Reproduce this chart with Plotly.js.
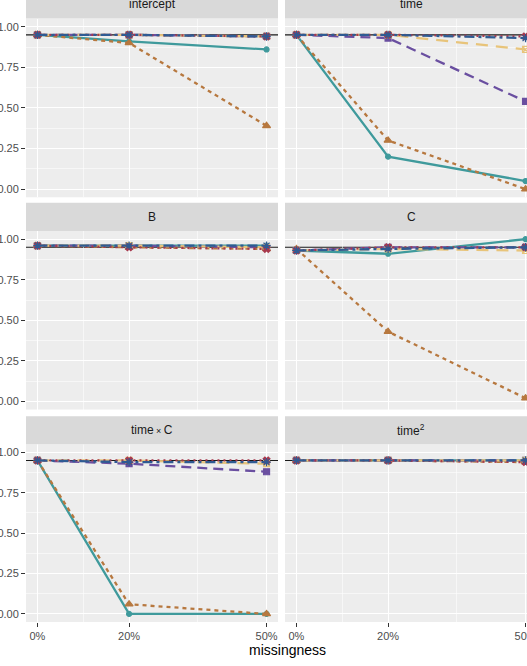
<!DOCTYPE html>
<html>
<head>
<meta charset="utf-8">
<script src="https://cdn.plot.ly/plotly-3.0.1.min.js"></script>
<style>html,body{margin:0;padding:0;background:#fff;overflow:hidden}#chart{width:527px;height:666px}</style>
</head>
<body>
<div id="chart"></div>
<script>
// ---------------- DATA ----------------
const missingness = [0, 20, 50];
const tickLabels = ['0%', '20%', '50%'];
const panelTitles = ['intercept', 'time', 'B', 'C', 'time\u2009<span style="font-size:9px">\u00d7</span>\u2009C', 'time<sup>2</sup>'];
const nominal = 0.95;

// coverage per panel (intercept, time, B, C, time x C, time^2) at 0%, 20%, 50%
const seriesTeal   = [[0.95,0.91,0.86],[0.95,0.20,0.05],[0.96,0.96,0.96],[0.93,0.91,1.00],[0.95,0.00,0.00],[0.95,0.95,0.95]];
const seriesBrown  = [[0.95,0.90,0.39],[0.95,0.30,0.00],[0.96,0.95,0.94],[0.94,0.43,0.02],[0.95,0.06,0.00],[0.95,0.95,0.94]];
const seriesPurple = [[0.95,0.95,0.94],[0.95,0.93,0.54],[0.96,0.96,0.95],[0.93,0.95,0.95],[0.95,0.93,0.88],[0.95,0.95,0.95]];
const seriesYellow = [[0.95,0.95,0.94],[0.95,0.95,0.86],[0.96,0.96,0.95],[0.93,0.94,0.93],[0.95,0.95,0.93],[0.95,0.95,0.95]];
const seriesRed    = [[0.95,0.95,0.94],[0.95,0.95,0.94],[0.96,0.95,0.94],[0.93,0.95,0.95],[0.95,0.95,0.95],[0.95,0.95,0.94]];
const seriesBlue   = [[0.95,0.95,0.94],[0.95,0.95,0.93],[0.96,0.96,0.96],[0.93,0.94,0.95],[0.95,0.94,0.94],[0.95,0.95,0.95]];

// ---------------- STYLE ----------------
const seriesList = [
  {data: seriesTeal,   color: '#3f9a9c', dash: 'solid',          symbol: 'circle',          size: 5},
  {data: seriesBrown,  color: '#b7783f', dash: '4px,4px',        symbol: 'triangle-up',     size: 7},
  {data: seriesPurple, color: '#6a4fa0', dash: '10px,6px',       symbol: 'square',          size: 6},
  {data: seriesYellow, color: '#e8c47a', dash: '12px,8px',       symbol: 'square-x-open',   size: 6},
  {data: seriesRed,    color: '#a8394e', dash: '2px,4px',        symbol: 'x',               size: 6},
  {data: seriesBlue,   color: '#2f5b93', dash: '10px,4px,3px,4px', symbol: 'asterisk-open', size: 7}
];

const W = 527, H = 666;
const mL = 26, mR = 0, mT = 0, mB = 43.6;
const plotW = W - mL - mR, plotH = H - mT - mB;
const colPx = [[26, 278], [285, 527]];
const rowPx = [[18.6, 197.4], [231.2, 409.8], [444.6, 622.4]];
const stripH = 28.2;
const unitPx = 252 / 55;
const px2x = p => (p - mL) / plotW;
const py2y = p => (plotH - (p - mT)) / plotH;

const font = 'Liberation Sans, Arial, sans-serif';
const layout = {
  width: W, height: H,
  margin: {l: mL, r: mR, t: mT, b: mB, pad: 0},
  paper_bgcolor: '#ffffff',
  plot_bgcolor: '#ededed',
  showlegend: false,
  font: {family: font, color: '#4d4d4d', size: 11},
  shapes: [], annotations: []
};
const traces = [];

for (let i = 0; i < 6; i++) {
  const r = Math.floor(i / 2), c = i % 2;
  const n = i + 1;
  const xr = c === 0 ? [-2.5, 52.5] : [-2.5, -2.5 + (colPx[1][1] - colPx[1][0]) / unitPx];
  layout['xaxis' + n] = {
    domain: [px2x(colPx[c][0]), px2x(colPx[c][1])],
    anchor: 'y' + n,
    range: xr, autorange: false, fixedrange: true,
    tickvals: missingness, ticktext: tickLabels,
    showticklabels: r === 2, ticklabeloverflow: 'allow',
    ticks: r === 2 ? 'outside' : '', ticklen: 4, tickwidth: 1, tickcolor: '#333333',
    tickfont: {size: 11, color: '#4d4d4d', family: font},
    showgrid: true, gridcolor: '#ffffff', gridwidth: 1.1,
    minor: {tickvals: [10, 35], showgrid: true, gridcolor: '#ffffff', gridwidth: 0.55},
    zeroline: false, showline: false
  };
  layout['yaxis' + n] = {
    domain: [py2y(rowPx[r][1]), py2y(rowPx[r][0])],
    anchor: 'x' + n,
    range: [-0.05, 1.05], autorange: false, fixedrange: true,
    tickvals: [0, 0.25, 0.5, 0.75, 1], ticktext: ['0.00', '0.25', '0.50', '0.75', '1.00'],
    showticklabels: c === 0, ticklabeloverflow: 'allow',
    ticks: c === 0 ? 'outside' : '', ticklen: 4, tickwidth: 1, tickcolor: '#333333',
    tickfont: {size: 11, color: '#4d4d4d', family: font},
    showgrid: true, gridcolor: '#ffffff', gridwidth: 1.1,
    minor: {tickvals: [0.125, 0.375, 0.625, 0.875], showgrid: true, gridcolor: '#ffffff', gridwidth: 0.55},
    zeroline: false, showline: false
  };
  // strip
  layout.shapes.push({
    type: 'rect', xref: 'paper', yref: 'paper', layer: 'above',
    x0: px2x(colPx[c][0]), x1: c === 0 ? px2x(colPx[c][1]) : 1.05,
    y0: py2y(rowPx[r][0] - stripH), y1: py2y(rowPx[r][0]),
    fillcolor: '#d9d9d9', line: {width: 0}
  });
  const centerPx = c === 0 ? (colPx[0][0] + colPx[0][1]) / 2 : colPx[1][0] + 126;
  layout.annotations.push({
    xref: 'paper', yref: 'paper', x: px2x(centerPx), y: py2y(rowPx[r][0] - stripH / 2),
    xanchor: 'center', yanchor: 'middle', showarrow: false,
    text: panelTitles[i], font: {family: font, size: 12, color: '#1a1a1a'}
  });
  // nominal coverage reference line
  layout.shapes.push({
    type: 'line', xref: 'x' + n + ' domain', yref: 'y' + n, layer: 'below',
    x0: 0, x1: 1, y0: nominal, y1: nominal,
    line: {color: '#1a1a1a', width: 1.1}
  });
  seriesList.forEach(s => {
    traces.push({
      type: 'scatter', mode: 'lines+markers',
      x: missingness, y: s.data[i],
      xaxis: 'x' + n, yaxis: 'y' + n,
      line: {color: s.color, width: 2.3, dash: s.dash},
      marker: {color: s.color, symbol: s.symbol, size: s.size, line: {color: s.color, width: 1.2}},
      cliponaxis: true, hoverinfo: 'skip'
    });
  });
}
layout.annotations.push({
  xref: 'paper', yref: 'paper', x: px2x(287), y: py2y(650),
  xanchor: 'center', yanchor: 'middle', showarrow: false,
  text: 'missingness', font: {family: font, size: 14, color: '#000000'}
});

Plotly.newPlot('chart', traces, layout, {staticPlot: true, displayModeBar: false});
</script>
</body>
</html>
